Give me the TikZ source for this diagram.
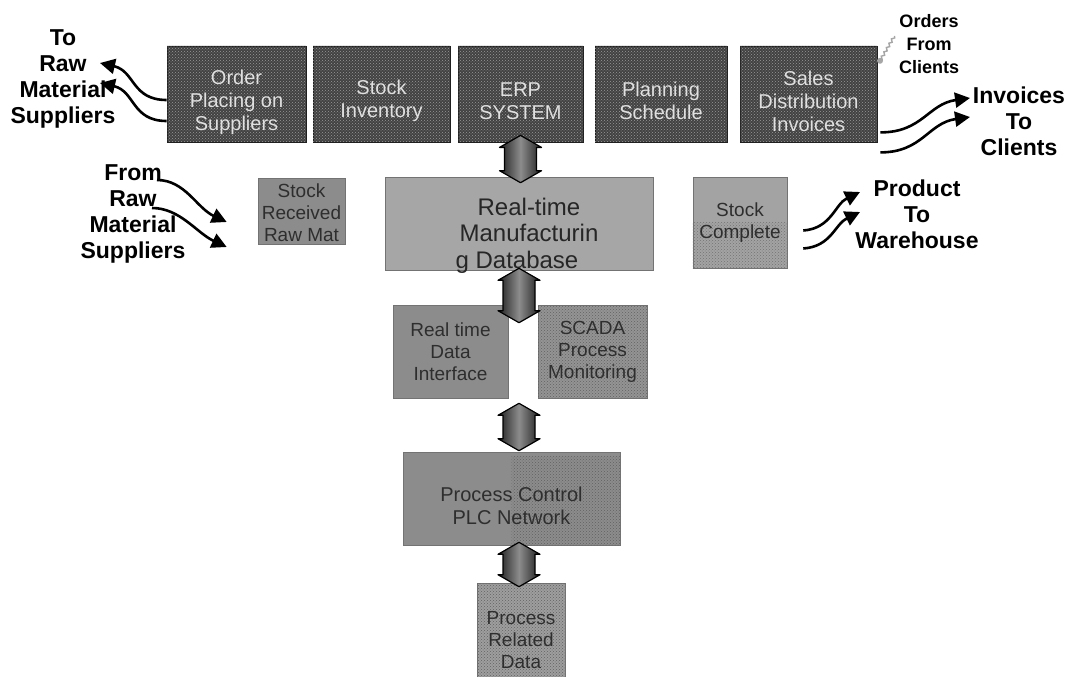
\documentclass[tikz,border=0pt]{standalone}
\usepackage{fontspec}
\setmainfont{Liberation Sans}
\usetikzlibrary{calc,arrows.meta,patterns,decorations.pathmorphing,shapes.misc}

% vertical double-headed block arrow between two tips with equal x
\newcommand\vdblarrow[2]{%
  \path[dblarrow] (#1) -- ($(#1)+(21,12)$) -- ($(#1)+(16,12)$) -- ($(#2)+(16,-12)$)
    -- ($(#2)+(21,-12)$) -- (#2) -- ($(#2)+(-21,-12)$) -- ($(#2)+(-16,-12)$)
    -- ($(#1)+(-16,12)$) -- ($(#1)+(-21,12)$) -- cycle;}

\begin{document}
\begin{tikzpicture}[x=1pt,y=-1pt,
  box/.style={chamfered rectangle, chamfered rectangle corners={north east, north west},
    chamfered rectangle xsep=4pt, chamfered rectangle ysep=5pt, inner sep=0pt},
  topbox/.style={box, fill=black!74, draw=black!88, line width=0.8pt,
    postaction={pattern=crosshatch dots, pattern color=black!40}},
  graybox/.style={box, fill=black!42, draw=black!55, line width=0.6pt},
  ditherbox/.style={graybox, postaction={pattern=crosshatch dots, pattern color=black!62}},
  toptext/.style={text=black!12, font=\fontsize{20}{23}\selectfont, align=center},
  graytext/.style={text=black!82, font=\fontsize{19}{22}\selectfont, align=center},
  sidelabel/.style={font=\bfseries\fontsize{23}{26}\selectfont, align=center},
  flow/.style={line width=2.6pt, -{Triangle[length=15pt,width=15pt]}},
  dblarrow/.style={draw=black, line width=1.2pt, line join=round,
    left color=black!88, right color=black!88, middle color=black!45},
]
\useasboundingbox (0,0) rectangle (1076,677);
\fill[white] (0,0) rectangle (1076,677);

% ERP layer
\node[topbox, minimum width=139pt, minimum height=96pt] (order) at (236.5,94) {};
\node[toptext] (orderT) at ([yshift=-8pt]order.center) {Order\\Placing on\\Suppliers};
\node[topbox, minimum width=137pt, minimum height=96pt] (stock) at (381.5,94) {};
\node[toptext] (stockT) at ([yshift=-7pt]stock.center) {Stock\\Inventory};
\node[topbox, minimum width=125pt, minimum height=96pt] (erp) at (520.5,94) {};
\node[toptext] (erpT) at ([yshift=-7pt]erp.center) {ERP\\SYSTEM};
\node[topbox, minimum width=132pt, minimum height=96pt] (plan) at (661,94) {};
\node[toptext] (planT) at ([yshift=-7pt]plan.center) {Planning\\Schedule};
\node[topbox, minimum width=137pt, minimum height=96pt] (sales) at (808.5,94) {};
\node[toptext] (salesT) at ([yshift=-7pt]sales.center) {Sales\\Distribution\\Invoices};

% manufacturing database layer
\node[graybox, fill=black!45, minimum width=87pt, minimum height=66pt] (recv) at (301.5,211) {};
\node[graytext] (recvT) at ([yshift=-2pt]recv.center) {Stock\\Received\\Raw Mat};
\node[graybox, fill=black!35, minimum width=268pt, minimum height=93pt] (db) at (519,223.5) {};
\node[text=black!85, font=\fontsize{24}{26.5}\selectfont, align=center] (dbT)
  at ($(db.center)+(10,12)$) {Real-time\\Manufacturin\\g Database\hspace*{24pt}};
\node[graybox, fill=black!36, minimum width=94pt, minimum height=91pt] (done) at (740,222.5) {};
\fill[pattern=crosshatch dots, pattern color=black!55]
  (done.west) rectangle (done.south east);
\node[graytext] (doneT) at (done.center) {Stock\\Complete};

% interface layer
\node[graybox, fill=black!45, minimum width=115pt, minimum height=93pt] (rtdi) at (450.5,351.5) {};
\node[graytext] (rtdiT) at (rtdi.center) {Real time\\Data\\Interface};
\node[ditherbox, minimum width=109pt, minimum height=93pt] (scada) at (592.5,351.5) {};
\node[graytext] (scadaT) at (scada.center) {SCADA\\Process\\Monitoring};

% control layer
\node[graybox, fill=black!45, minimum width=217pt, minimum height=93pt] (plc) at (511.5,498.5) {};
\fill[pattern=crosshatch dots, pattern color=black!62]
  ($(plc.north)+(0,5)$) rectangle (plc.south east);
\node[graytext, font=\fontsize{20}{23}\selectfont] (plcT) at ([yshift=-7pt]plc.center) {Process Control\\PLC Network};
\node[ditherbox, fill=black!38, minimum width=88pt, minimum height=96pt] (prd) at (521,631) {};
\node[graytext] (prdT) at ([yshift=-9pt]prd.center) {Process\\Related\\Data};

% data links between layers
\coordinate (a1t) at ([yshift=7pt]erp.south);
\coordinate (a1b) at ($(erp.south |- db.north)+(0,6)$);
\vdblarrow{a1t}{a1b}
\coordinate (a2t) at ($(db.south)+(0,-2)$);
\coordinate (gapT) at ($(db.south |- rtdi.north)+(0,18)$);
\vdblarrow{a2t}{gapT}
\coordinate (gapB) at ($(db.south |- rtdi.south)+(0,5)$);
\coordinate (a3b) at ($(db.south |- plc.north)+(0,-1)$);
\vdblarrow{gapB}{a3b}
\coordinate (a4t) at ($(db.south |- plc.south)+(0,-3)$);
\coordinate (a4b) at ($(db.south |- prd.north)+(0,4)$);
\vdblarrow{a4t}{a4b}

% outside parties
\node[sidelabel] (toraw) at (63,79) {To\\Raw\\Material\\Suppliers};
\node[sidelabel] (fromraw) at (133,214) {From\\Raw\\Material\\Suppliers};
\node[sidelabel] (invoices) at (1019,121) {Invoices\\To\\Clients};
\node[sidelabel] (product) at (917,214) {Product\\To\\Warehouse};
\node[sidelabel, font=\bfseries\fontsize{18}{23}\selectfont] (orders) at (929,44) {Orders\\From\\Clients};

% flows to and from outside parties
\coordinate (tl1) at (100,63);
\coordinate (tl2) at (100,83);
\draw[flow] ([yshift=-6pt]order.west) .. controls +(-35,0) and +(35,8) .. (tl1);
\draw[flow] ([yshift=-27pt]order.west) .. controls +(-35,0) and +(35,8) .. (tl2);

\coordinate (fr1) at (157,180);
\coordinate (fr2) at (152,208);
\draw[flow] (fr1) .. controls +(28,0) and +(-30,-14) .. ($(recv.west)+(-31,11)$);
\draw[flow] (fr2) .. controls +(28,0) and +(-30,-14) .. ($(recv.west)+(-31,36)$);

\coordinate (inv1) at (970,98);
\coordinate (inv2) at (970,117);
\draw[flow] ($(sales.south east)+(3,-10)$) .. controls +(42,0) and +(-42,6) .. (inv1);
\draw[flow] ($(sales.south east)+(3,10)$) .. controls +(42,0) and +(-42,6) .. (inv2);

\coordinate (pw1) at (860,192);
\coordinate (pw2) at (860,212);
\draw[flow] ($(done.east)+(16,8)$) .. controls +(28,-2) and +(-25,12) .. (pw1);
\draw[flow] ($(done.east)+(16,26)$) .. controls +(28,-2) and +(-25,12) .. (pw2);

% faint order trace towards the sales box
\draw[black!35, line width=1.4pt, decorate,
  decoration={snake, amplitude=1.2pt, segment length=5pt}]
  ($(orders.west)+(-1,-8)$) -- ($(sales.north east)+(3,15)$);
\fill[black!35] ($(sales.north east)+(3,15)$) circle (3pt);
\end{tikzpicture}
\end{document}
